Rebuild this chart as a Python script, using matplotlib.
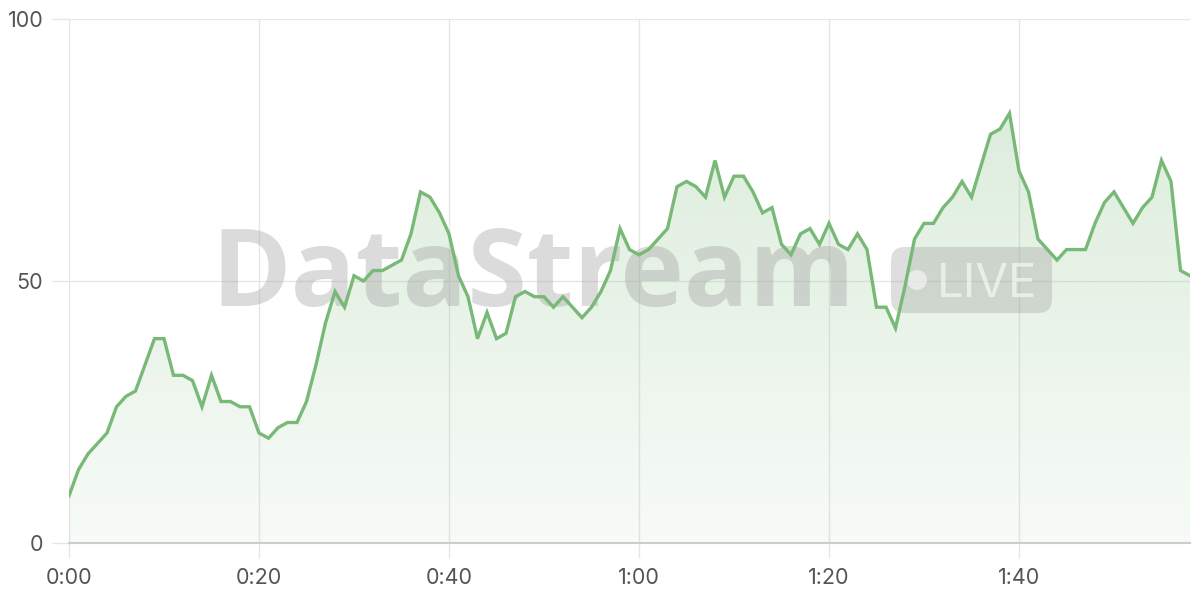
import numpy as np
import matplotlib
matplotlib.use("Agg")
import matplotlib.pyplot as plt
from matplotlib.patches import FancyBboxPatch, Circle, Polygon
from matplotlib.transforms import IdentityTransform

# ---- data ----
seconds = list(range(0, 119))
values = [9, 14, 17, 19, 21, 26, 28, 29, 34, 39,
          39, 32, 32, 31, 26, 32, 27, 27, 26, 26,
          21, 20, 22, 23, 23, 27, 34, 42, 48, 45,
          51, 50, 52, 52, 53, 54, 59, 67, 66, 63,
          59, 51, 47, 39, 44, 39, 40, 47, 48, 47,
          47, 45, 47, 45, 43, 45, 48, 52, 60, 56,
          55, 56, 58, 60, 68, 69, 68, 66, 73, 66,
          70, 70, 67, 63, 64, 57, 55, 59, 60, 57,
          61, 57, 56, 59, 56, 45, 45, 41, 49, 58,
          61, 61, 64, 66, 69, 66, 72, 78, 79, 82,
          71, 67, 58, 56, 54, 56, 56, 56, 61, 65,
          67, 64, 61, 64, 66, 73, 69, 52, 51]
x_ticks = [0, 20, 40, 60, 80, 100]
x_tick_labels = ["0:00", "0:20", "0:40", "1:00", "1:20", "1:40"]
y_ticks = [0, 50, 100]
y_tick_labels = ["0", "50", "100"]

plt.rcParams['font.family'] = ['Inter', 'DejaVu Sans']

LINE = "#79b977"
GRID = "#e6e6e6"
TEXT = "#555555"

fig = plt.figure(figsize=(12, 6), dpi=100)
ax = fig.add_axes([69 / 1200, 1 - 543 / 600, (1190 - 69) / 1200, (543 - 19) / 600])

x = np.array(seconds)
y = np.array(values)

ax.set_xlim(0, 118)
ax.set_ylim(0, 100)

# grid
ax.set_axisbelow(True)
ax.grid(True, color=GRID, linewidth=1.0, zorder=0)

# gradient fill
rgb = matplotlib.colors.to_rgb(LINE)
n = 256
grad = np.zeros((n, 1, 4))
grad[:, 0, 0:3] = rgb
grad[:, 0, 3] = np.linspace(0.30, 0.06, n)
im = ax.imshow(grad, extent=[0, 118, 0, 100], origin='upper', aspect='auto', zorder=1,
               interpolation='bilinear')
verts = np.vstack([np.column_stack([x, y]), [[x[-1], 0], [x[0], 0]]])
poly = Polygon(verts, closed=True, transform=ax.transData, facecolor='none', edgecolor='none')
ax.add_patch(poly)
im.set_clip_path(poly)

# watermark
ax.text(211, 600 - 306, "DataStream", transform=IdentityTransform(),
        fontsize=77.5, fontweight='bold', family=['Open Sans', 'DejaVu Sans'],
        color="#999999", alpha=0.35,
        ha='left', va='baseline', zorder=2, clip_on=False)
badge = FancyBboxPatch((891 + 14, 600 - 313 + 14), 161 - 28, 66 - 28,
                       boxstyle="round,pad=14", transform=IdentityTransform(),
                       facecolor="#999999", alpha=0.32, edgecolor='none', zorder=2)
ax.add_artist(badge)
dot = Circle((917, 600 - 280), 10, transform=IdentityTransform(),
             facecolor="white", alpha=0.55, edgecolor='none', zorder=2.1)
ax.add_artist(dot)
ax.text(937, 600 - 297, "LIVE", transform=IdentityTransform(), fontsize=34,
        fontweight='normal', color="white", alpha=0.6, ha='left', va='baseline', zorder=2.1)

# line
ax.plot(x, y, color=LINE, linewidth=2.4, zorder=3, solid_joinstyle='miter')

# axes styling
for s in ['top', 'right', 'left']:
    ax.spines[s].set_visible(False)
ax.spines['bottom'].set_color("#cccccc")
ax.spines['bottom'].set_linewidth(1.5)
ax.spines['bottom'].set_zorder(4)

ax.set_xticks(x_ticks)
ax.set_xticklabels(x_tick_labels)
ax.set_yticks(y_ticks)
ax.set_yticklabels(y_tick_labels)
ax.tick_params(axis='x', length=11, width=1, color=GRID, pad=7, labelsize=15.5, labelcolor=TEXT)
ax.tick_params(axis='y', length=12, width=1, color=GRID, pad=6.5, labelsize=15.5, labelcolor=TEXT)

fig.savefig("out.png", dpi=100, facecolor="white")
